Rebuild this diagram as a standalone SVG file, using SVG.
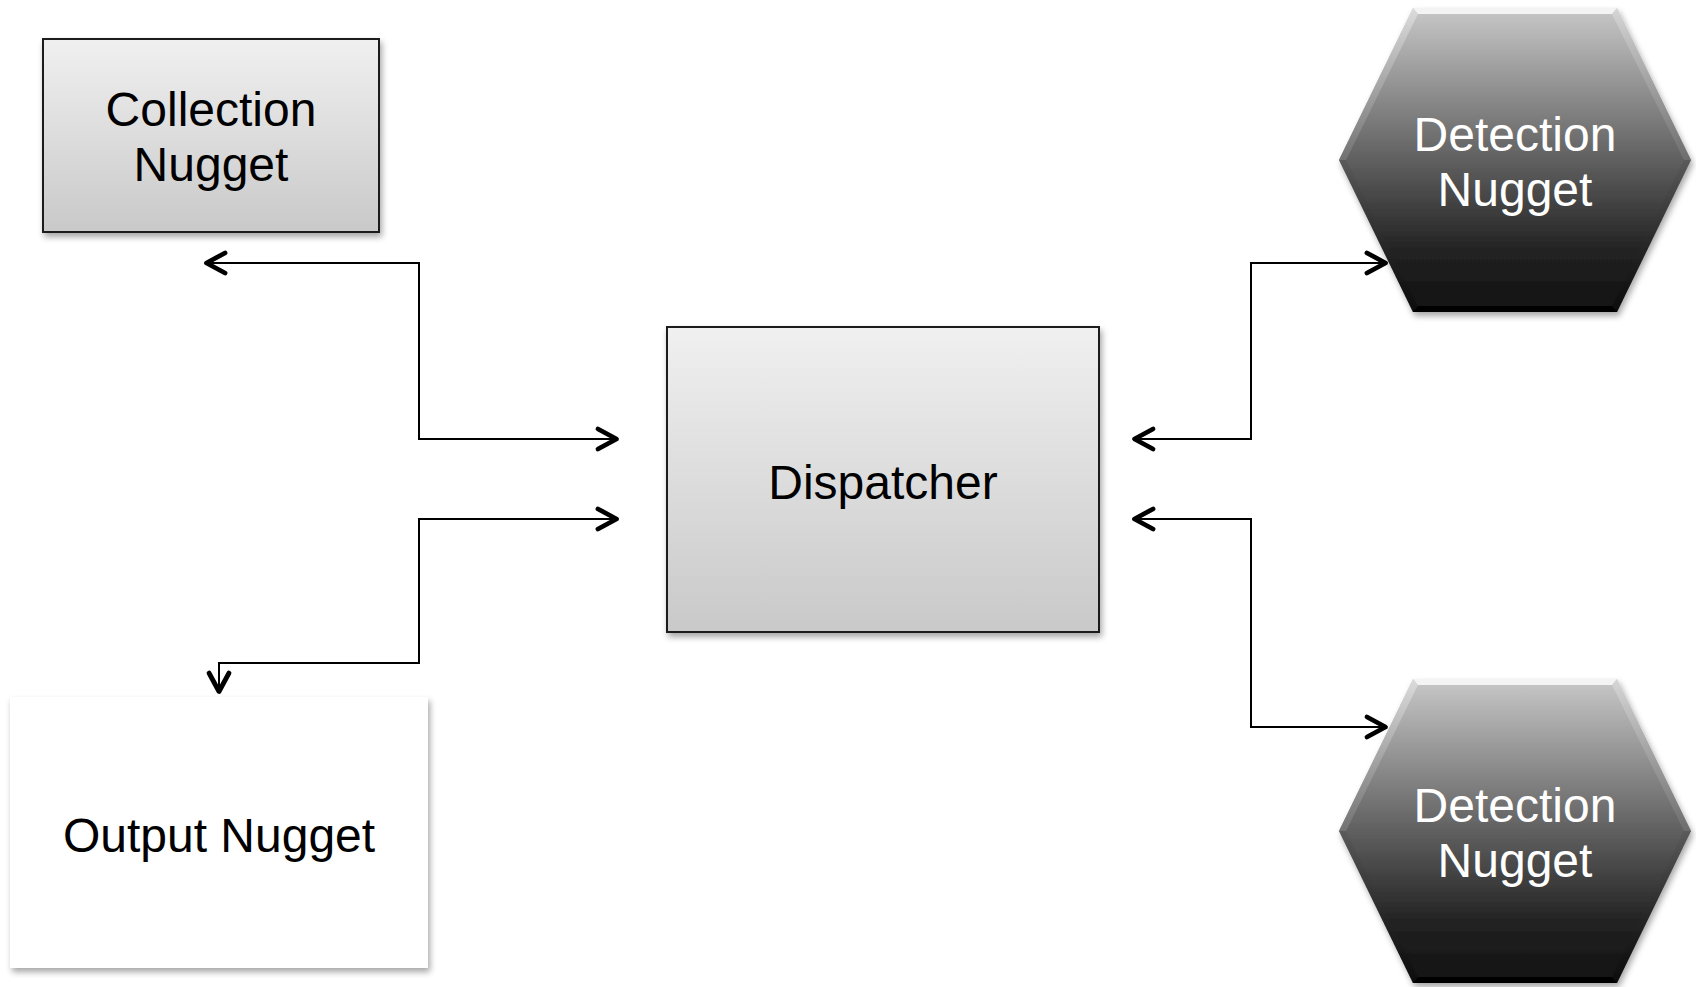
<svg xmlns="http://www.w3.org/2000/svg" width="1696" height="987" viewBox="0 0 1696 987">
<style>
.lbl{font-family:"Liberation Sans",Arial,sans-serif;font-size:48px;text-anchor:middle;fill:#000}
.wlbl{font-family:"Liberation Sans",Arial,sans-serif;font-size:48px;text-anchor:middle;fill:#fff}
.box{fill:url(#boxGrad);stroke:#1a1a1a;stroke-width:2}
.conn{fill:none;stroke:#000;stroke-width:2;marker-start:url(#chev);marker-end:url(#chev)}
</style>
<defs>
<linearGradient id="boxGrad" x1="0" y1="0" x2="0" y2="1">
<stop offset="0" stop-color="#f0f0f0"/>
<stop offset="1" stop-color="#c9c9c9"/>
</linearGradient>
<linearGradient id="hexGrad" x1="0" y1="0" x2="0" y2="1">
<stop offset="0" stop-color="#c8c8c8"/>
<stop offset="0.45" stop-color="#6a6a6a"/>
<stop offset="0.8" stop-color="#222"/>
<stop offset="1" stop-color="#111"/>
</linearGradient>
<linearGradient id="bevL" x1="0" y1="0" x2="0" y2="1">
<stop offset="0" stop-color="#e4e4e4"/>
<stop offset="1" stop-color="#7a7a7a"/>
</linearGradient>
<linearGradient id="bevLow" x1="0" y1="0" x2="0" y2="1">
<stop offset="0" stop-color="#555"/>
<stop offset="1" stop-color="#050505"/>
</linearGradient>
<filter id="shadow" x="-10%" y="-10%" width="125%" height="130%">
<feDropShadow dx="2" dy="4" stdDeviation="3" flood-color="#000" flood-opacity="0.35"/>
</filter>
<marker id="chev" markerUnits="userSpaceOnUse" markerWidth="40" markerHeight="40" viewBox="-30 -20 40 40" refX="0" refY="0" orient="auto-start-reverse" overflow="visible">
<path d="M-20,-10 L-1.5,0 L-20,10" fill="none" stroke="#000" stroke-width="4.8" stroke-linecap="round" stroke-linejoin="round"/>
</marker>
</defs>
<rect width="1696" height="987" fill="#fff"/>

<g id="connectors">
<path class="conn" d="M205,263 H419 V439 H618"/>
<path class="conn" d="M618,519 H419 V663 H219 V693"/>
<path class="conn" d="M1133,439 H1251 V263 H1387"/>
<path class="conn" d="M1133,519 H1251 V727 H1387"/>
</g>

<g id="collection-nugget">
<rect class="box" x="43" y="39" width="336" height="193" filter="url(#shadow)"/>
<text class="lbl" x="211" y="126">Collection</text>
<text class="lbl" x="211" y="181">Nugget</text>
</g>

<g id="dispatcher">
<rect class="box" x="667" y="327" width="432" height="305" filter="url(#shadow)"/>
<text class="lbl" x="883" y="499">Dispatcher</text>
</g>

<g id="output-nugget">
<rect x="10" y="697" width="418" height="271" fill="#fff" filter="url(#shadow)"/>
<text class="lbl" x="219" y="852">Output Nugget</text>
</g>

<g id="detection-nugget-1">
<polygon points="1339,160 1413,8 1617,8 1691,160 1617,312 1413,312" fill="url(#hexGrad)" filter="url(#shadow)"/>
<polygon points="1413,8 1617,8 1612,14 1418,14" fill="#f4f4f4"/>
<polygon points="1339,160 1413,8 1418,14 1346,160" fill="url(#bevL)" opacity="0.7"/>
<polygon points="1691,160 1617,8 1612,14 1684,160" fill="url(#bevL)" opacity="0.5"/>
<polygon points="1339,160 1346,160 1418,306 1413,312" fill="url(#bevLow)" opacity="0.5"/>
<polygon points="1691,160 1684,160 1612,306 1617,312" fill="url(#bevLow)" opacity="0.5"/>
<polygon points="1418,306 1612,306 1617,312 1413,312" fill="#000"/>
<text class="wlbl" x="1515" y="151">Detection</text>
<text class="wlbl" x="1515" y="206">Nugget</text>
</g>

<g id="detection-nugget-2">
<polygon points="1339,831 1413,679 1617,679 1691,831 1617,983 1413,983" fill="url(#hexGrad)" filter="url(#shadow)"/>
<polygon points="1413,679 1617,679 1612,685 1418,685" fill="#f4f4f4"/>
<polygon points="1339,831 1413,679 1418,685 1346,831" fill="url(#bevL)" opacity="0.7"/>
<polygon points="1691,831 1617,679 1612,685 1684,831" fill="url(#bevL)" opacity="0.5"/>
<polygon points="1339,831 1346,831 1418,977 1413,983" fill="url(#bevLow)" opacity="0.5"/>
<polygon points="1691,831 1684,831 1612,977 1617,983" fill="url(#bevLow)" opacity="0.5"/>
<polygon points="1418,977 1612,977 1617,983 1413,983" fill="#000"/>
<text class="wlbl" x="1515" y="822">Detection</text>
<text class="wlbl" x="1515" y="877">Nugget</text>
</g>
</svg>
